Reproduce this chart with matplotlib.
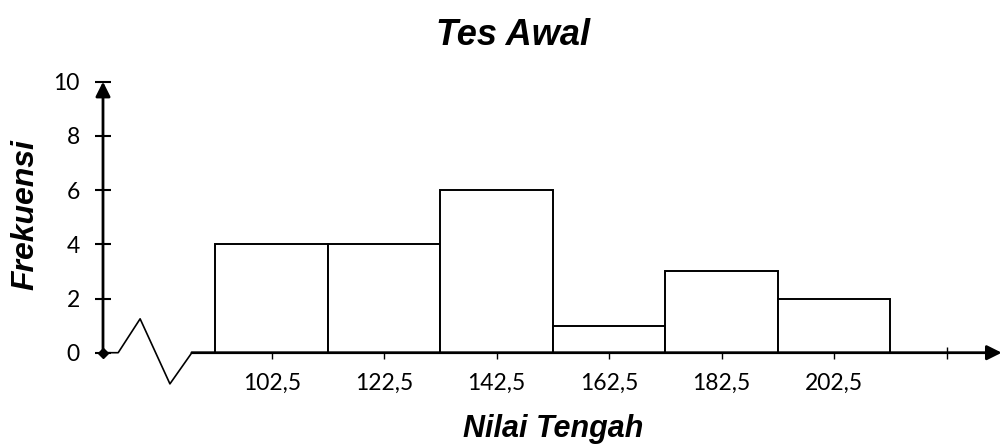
import matplotlib.pyplot as plt

# ----------------------- DATA -----------------------
nilai_tengah = [102.5, 122.5, 142.5, 162.5, 182.5, 202.5]
frekuensi = [4, 4, 6, 1, 3, 2]
lebar_kelas = 20
tick_pos = nilai_tengah + [222.5]
tick_labels = ["102,5", "122,5", "142,5", "162,5", "182,5", "202,5", ""]
y_ticks = [0, 2, 4, 6, 8, 10]

# ----------------------- FIGURE -----------------------
fig = plt.figure(figsize=(10.03, 4.46), dpi=100)
ax = fig.add_axes([103 / 1003, 93.3 / 446, 898.7 / 1003, 271 / 446])

x0 = 72.5   # where the y axis stands
ax.set_xlim(x0, 232.3)
ax.set_ylim(0, 10)

ax.bar(nilai_tengah, frekuensi, width=lebar_kelas, color="white",
       edgecolor="black", linewidth=1.4, zorder=2)

for s in ax.spines.values():
    s.set_visible(False)

# axis lines with arrows
ax.annotate("", xy=(232.3, 0), xytext=(88.3, 0),
            arrowprops=dict(arrowstyle="-|>", lw=2, color="black",
                            mutation_scale=22, shrinkA=0, shrinkB=0),
            annotation_clip=False, zorder=3)
ax.annotate("", xy=(x0, 10), xytext=(x0, 0),
            arrowprops=dict(arrowstyle="-|>", lw=2, color="black",
                            mutation_scale=22, shrinkA=0, shrinkB=0),
            annotation_clip=False, zorder=3)

# axis break zigzag
ax.plot([x0, 75.2, 79.1, 84.4, 88.3], [0, 0, 1.25, -1.15, 0],
        color="black", lw=1.2, clip_on=False, zorder=3)
ax.plot([x0], [0], marker="D", ms=5, color="black", clip_on=False, zorder=4)

# ticks
ax.set_xticks(tick_pos)
ax.set_xticklabels(tick_labels)
ax.set_yticks(y_ticks)
ax.tick_params(axis="x", direction="inout", length=8.6, width=1, pad=10,
               labelsize=16.5)
ax.tick_params(axis="y", direction="inout", length=11.5, width=1.5, pad=11,
               labelsize=16.5)
for lab in ax.get_xticklabels() + ax.get_yticklabels():
    lab.set_family("Lato")

# texts
fig.text(513 / 1003, 1 - 45 / 446, "Tes Awal", ha="center", va="baseline",
         fontsize=26, fontweight="bold", fontstyle="italic",
         family="Liberation Sans")
fig.text(553 / 1003, 1 - 437 / 446, "Nilai Tengah", ha="center",
         va="baseline", fontsize=22, fontweight="bold", fontstyle="italic",
         family="Liberation Sans")
fig.text(25 / 1003, 1 - 215 / 446, "Frekuensi", ha="center", va="center",
         rotation=90, fontsize=23, fontweight="bold", fontstyle="italic",
         family="Liberation Sans")

fig.savefig("out.png", dpi=100)
